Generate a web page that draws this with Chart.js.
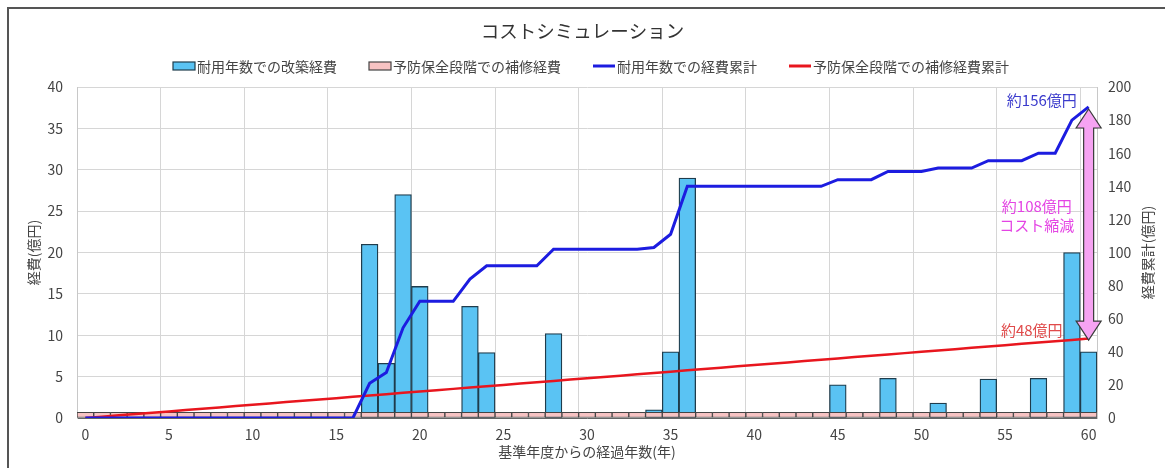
<!DOCTYPE html>
<html lang="ja">
<head>
<meta charset="utf-8">
<title>コストシミュレーション</title>
<script src="https://cdn.jsdelivr.net/npm/chart.js@4.4.1/dist/chart.umd.min.js"></script>
<style>
    html, body { margin: 0; padding: 0; background: #fff; overflow: hidden; }
    #wrap { position: relative; width: 1165px; height: 468px; }
    #frame {
        position: absolute; left: 7px; top: 7px; width: 1300px; height: 600px;
        border: 2px solid #555; pointer-events: none;
    }
    canvas { position: absolute; left: 0; top: 0; }
</style>
</head>
<body>
<div id="wrap">
    <div id="frame"></div>
    <canvas id="costChart"></canvas>
</div>
<script>
/**
 * コストシミュレーション — 改築経費と補修経費の比較
 */

const FONT = "'Noto Sans CJK JP', 'Noto Sans', sans-serif";
const TEXT = '#444';

// 経過年数 0..60
const years = [
    '0', '1', '2', '3', '4', '5', '6', '7', '8', '9',
    '10', '11', '12', '13', '14', '15', '16', '17', '18', '19',
    '20', '21', '22', '23', '24', '25', '26', '27', '28', '29',
    '30', '31', '32', '33', '34', '35', '36', '37', '38', '39',
    '40', '41', '42', '43', '44', '45', '46', '47', '48', '49',
    '50', '51', '52', '53', '54', '55', '56', '57', '58', '59',
    '60',
];

// 耐用年数での改築経費 (億円)
const rebuildCost = [
    null, null, null, null, null, null, null, null, null, null,
    null, null, null, null, null, null, null, 21, 6.6, 27,
    15.9, null, null, 13.5, 7.9, null, null, null, 10.2, null,
    null, null, null, null, 1, 8, 29, null, null, null,
    null, null, null, null, null, 4, null, null, 4.8, null,
    null, 1.8, null, null, 4.7, null, null, 4.8, null, 20,
    8,
];

// 予防保全段階での補修経費 (億円)
const repairCost = [
    0.7, 0.7, 0.7, 0.7, 0.7, 0.7, 0.7, 0.7, 0.7, 0.7,
    0.7, 0.7, 0.7, 0.7, 0.7, 0.7, 0.7, 0.7, 0.7, 0.7,
    0.7, 0.7, 0.7, 0.7, 0.7, 0.7, 0.7, 0.7, 0.7, 0.7,
    0.7, 0.7, 0.7, 0.7, 0.7, 0.7, 0.7, 0.7, 0.7, 0.7,
    0.7, 0.7, 0.7, 0.7, 0.7, 0.7, 0.7, 0.7, 0.7, 0.7,
    0.7, 0.7, 0.7, 0.7, 0.7, 0.7, 0.7, 0.7, 0.7, 0.7,
    0.7,
];

// 耐用年数での経費累計 (億円, 右軸)
const rebuildTotal = [
    0, 0, 0, 0, 0, 0, 0, 0, 0, 0,
    0, 0, 0, 0, 0, 0, 0, 21, 27.5, 54.5,
    70.5, 70.5, 70.5, 84, 92, 92, 92, 92, 102, 102,
    102, 102, 102, 102, 103, 111, 140, 140, 140, 140,
    140, 140, 140, 140, 140, 144, 144, 144, 149, 149,
    149, 151, 151, 151, 155.5, 155.5, 155.5, 160, 160, 180,
    188,
];

// 予防保全段階での補修経費累計 (億円, 右軸)
const repairTotal = [
    0, 0.8, 1.6, 2.4, 3.2, 4, 4.8, 5.6, 6.4, 7.2,
    8, 8.8, 9.6, 10.4, 11.2, 12, 12.8, 13.6, 14.4, 15.2,
    16, 16.8, 17.6, 18.4, 19.2, 20, 20.8, 21.6, 22.4, 23.2,
    24, 24.8, 25.6, 26.4, 27.2, 28, 28.8, 29.6, 30.4, 31.2,
    32, 32.8, 33.6, 34.4, 35.2, 36, 36.8, 37.6, 38.4, 39.2,
    40, 40.8, 41.6, 42.4, 43.2, 44, 44.8, 45.6, 46.4, 47.2,
    48,
];

const seriesNames = [
    '耐用年数での改築経費',
    '予防保全段階での補修経費',
    '耐用年数での経費累計',
    '予防保全段階での補修経費累計',
];

// legend drawn by hand so box / gap sizes match the original
const topLegend = {
    id: 'topLegend',
    afterDraw(chart) {
        const { ctx } = chart;
        ctx.save();
        ctx.font = '14px ' + FONT;
        ctx.textBaseline = 'middle';
        const items = chart.data.datasets.map((ds) => ({ ds, w: 24 + ctx.measureText(ds.label).width }));
        const gap = 32;
        const total = items.reduce((s, it) => s + it.w, 0) + gap * (items.length - 1);
        let x = 591 - total / 2;
        const y = 66;
        items.forEach(({ ds, w }) => {
            if (ds.type === 'line') {
                ctx.strokeStyle = ds.borderColor;
                ctx.lineWidth = 3;
                ctx.beginPath();
                ctx.moveTo(x, y);
                ctx.lineTo(x + 22, y);
                ctx.stroke();
            } else {
                ctx.fillStyle = ds.backgroundColor;
                ctx.strokeStyle = ds.borderColor;
                ctx.lineWidth = 1.2;
                ctx.fillRect(x, y - 4, 22, 8);
                ctx.strokeRect(x, y - 4, 22, 8);
            }
            ctx.fillStyle = TEXT;
            ctx.fillText(ds.label, x + 24, y + 1);
            x += w + gap;
        });
        ctx.restore();
    },
};

// 約156億円 / 約108億円 コスト縮減 / 約48億円 + double arrow, right axis title
const notes = {
    id: 'notes',
    afterDatasetsDraw(chart) {
        const { ctx, scales: { x, y2 } } = chart;
        ctx.save();

        const ax = x.getPixelForValue(60);
        const top = y2.getPixelForValue(186.7);
        const bot = y2.getPixelForValue(47.1);
        const hh = 19, hw = 12.5, sw = 5;
        ctx.beginPath();
        ctx.moveTo(ax, top);
        ctx.lineTo(ax + hw, top + hh);
        ctx.lineTo(ax + sw, top + hh);
        ctx.lineTo(ax + sw, bot - hh);
        ctx.lineTo(ax + hw, bot - hh);
        ctx.lineTo(ax, bot);
        ctx.lineTo(ax - hw, bot - hh);
        ctx.lineTo(ax - sw, bot - hh);
        ctx.lineTo(ax - sw, top + hh);
        ctx.lineTo(ax - hw, top + hh);
        ctx.closePath();
        ctx.fillStyle = '#f6a3f2';
        ctx.fill();
        ctx.strokeStyle = '#3a3a3a';
        ctx.lineWidth = 1.2;
        ctx.stroke();

        ctx.font = '15px ' + FONT;
        ctx.textAlign = 'center';
        ctx.textBaseline = 'middle';
        const put = (txt, xv, yv, color) => {
            ctx.fillStyle = color;
            ctx.fillText(txt, x.getPixelForValue(xv), y2.getPixelForValue(yv));
        };
        put('約156億円', 57.2, 191.9, '#3b3bcc');
        put('約108億円', 56.9, 127.7, '#e444e4');
        put('コスト縮減', 56.9, 116.5, '#e444e4');
        put('約48億円', 56.6, 52.7, '#e04a4a');
        ctx.restore();
    },
    afterDraw(chart) {
        const { ctx, chartArea } = chart;
        ctx.save();
        ctx.translate(chart.width - 17, (chartArea.top + chartArea.bottom) / 2);
        ctx.rotate(-Math.PI / 2);
        ctx.font = '14px ' + FONT;
        ctx.fillStyle = TEXT;
        ctx.textAlign = 'center';
        ctx.textBaseline = 'middle';
        ctx.fillText('経費累計(億円)', 0, 0);
        ctx.restore();
    },
};

const initCostChart = () => {
    Chart.defaults.font.family = FONT;
    Chart.defaults.color = TEXT;

    const ctx = document.getElementById('costChart').getContext('2d');
    new Chart(ctx, {
        data: {
            labels: years,
            datasets: [
                {
                    type: 'bar',
                    label: seriesNames[0],
                    data: rebuildCost,
                    yAxisID: 'y',
                    backgroundColor: '#5ac3f3',
                    borderColor: '#1f3c4c',
                    borderWidth: 1.3,
                    borderSkipped: false,
                    grouped: false,
                    barPercentage: 1,
                    categoryPercentage: 1,
                    order: 4,
                },
                {
                    type: 'bar',
                    label: seriesNames[1],
                    data: repairCost,
                    yAxisID: 'y',
                    backgroundColor: '#f7c3c3',
                    borderColor: '#444',
                    borderWidth: 1,
                    borderSkipped: false,
                    grouped: false,
                    barPercentage: 1,
                    categoryPercentage: 1,
                    order: 3,
                },
                {
                    type: 'line',
                    label: seriesNames[2],
                    data: rebuildTotal,
                    yAxisID: 'y2',
                    borderColor: '#1c1ce0',
                    borderWidth: 3,
                    pointRadius: 0,
                    tension: 0,
                    order: 1,
                },
                {
                    type: 'line',
                    label: seriesNames[3],
                    data: repairTotal,
                    yAxisID: 'y2',
                    borderColor: '#e8161e',
                    borderWidth: 2.5,
                    pointRadius: 0,
                    tension: 0,
                    order: 2,
                },
            ],
        },
        options: {
            responsive: true,
            maintainAspectRatio: false,
            animation: false,
            layout: { padding: 0 },
            plugins: {
                legend: { display: false },
                tooltip: { enabled: false },
                title: {
                    display: true,
                    text: 'コストシミュレーション',
                    color: '#333',
                    font: { size: 18.5, weight: 'normal' },
                    padding: { top: 20, bottom: 44.8 },
                },
            },
            scales: {
                x: {
                    type: 'category',
                    offset: true,
                    grid: {
                        offset: true,
                        drawTicks: false,
                        color: (c) => (c.index % 5 === 0 ? '#d6d6d6' : 'rgba(0,0,0,0)'),
                    },
                    border: { color: '#666' },
                    ticks: {
                        autoSkip: false,
                        maxRotation: 0,
                        padding: 8,
                        font: { size: 14 },
                        callback: (v, i) => (i % 5 === 0 ? years[i] : ''),
                    },
                    title: {
                        display: true,
                        text: '基準年度からの経過年数(年)',
                        font: { size: 14 },
                        padding: { top: 0, bottom: 7.6 },
                    },
                    afterFit: (s) => { s.height = 50; },
                },
                y: {
                    position: 'left',
                    min: 0,
                    max: 40,
                    grid: { color: '#d6d6d6', drawTicks: false },
                    border: { color: '#c8c8c8' },
                    ticks: { stepSize: 5, padding: 14, font: { size: 14 } },
                    title: {
                        display: true,
                        text: '経費(億円)',
                        font: { size: 14 },
                        padding: { top: 25, bottom: 0 },
                    },
                    afterFit: (s) => { s.width = 77; },
                },
                y2: {
                    position: 'right',
                    min: 0,
                    max: 200,
                    grid: { drawOnChartArea: false, drawTicks: false },
                    border: { color: '#c8c8c8' },
                    ticks: { stepSize: 20, padding: 11, font: { size: 14 } },
                    afterFit: (s) => { s.width = 68; },
                },
            },
        },
        plugins: [topLegend, notes],
    });
};

document.addEventListener('DOMContentLoaded', initCostChart);
</script>
</body>
</html>
